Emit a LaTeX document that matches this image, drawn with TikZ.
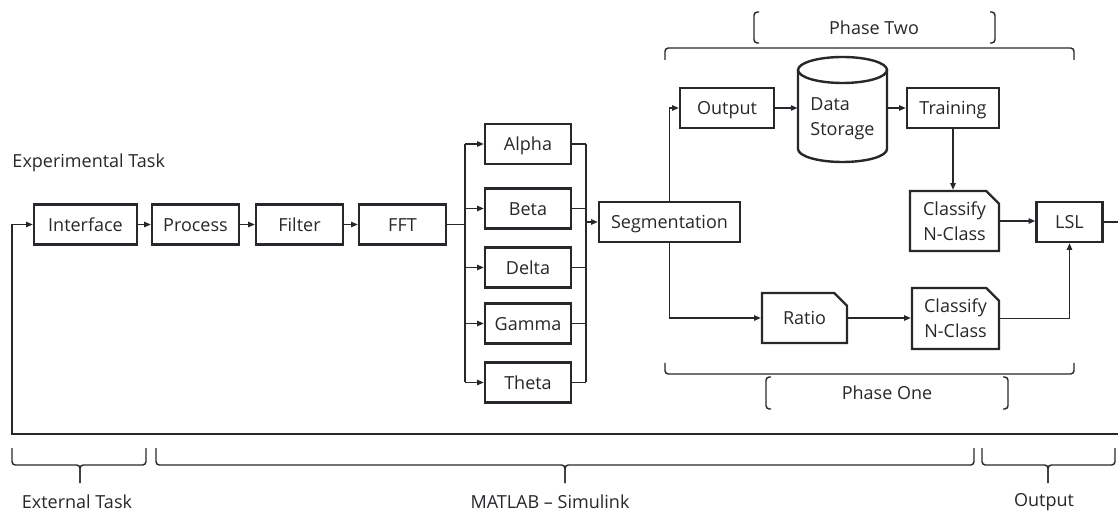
\documentclass[tikz,border=0pt]{standalone}
\usepackage{fontspec}
\setmainfont{Open Sans}
\usetikzlibrary{arrows.meta,shapes.misc}
\definecolor{inkgray}{RGB}{40,40,44}
\tikzset{every picture/.style={line width=0.75pt}}

\begin{document}
\begin{tikzpicture}[x=0.75pt,y=0.75pt,yscale=-1,xscale=1,
  boxbase/.style={draw=inkgray, line width=1.8pt, text=inkgray, minimum height=30pt, inner sep=2pt, font=\fontsize{13.5}{18.5}\selectfont},
  blk/.style={boxbase, text height=9.8pt, text depth=0pt},
  cut/.style={boxbase, chamfered rectangle, chamfered rectangle corners=north east, chamfered rectangle xsep=6pt, align=center},
  conn/.style={draw=inkgray, line width=1.1pt},
  arr/.style={conn, -{Triangle[length=5pt,width=4pt]}},
  brk/.style={draw=inkgray, line width=1.1pt, rounded corners=2.5pt},
  lbl/.style={text=inkgray, font=\fontsize{13.5}{18.5}\selectfont, inner sep=0pt}]
%set diagram size
\path[use as bounding box, fill=white] (0,0) rectangle (1118,513);

%Flowchart: Process [main row]
\node[blk, minimum width=77.25pt] (iface) at (85.5,224.5) {Interface};
\node[blk, minimum width=65.25pt] (proc) at (195.5,224.5) {Process};
\node[blk, minimum width=65.25pt] (filt) at (299.5,224.5) {Filter};
\node[blk, minimum width=65.25pt] (fft) at (402.5,224.5) {FFT};
%Flowchart: Process [bands]
\node[blk, minimum width=64.5pt] (alpha) at (528,144) {Alpha};
\node[blk, minimum width=64.5pt] (beta) at (528,208.5) {Beta};
\node[blk, minimum width=64.5pt] (delta) at (528,267.5) {Delta};
\node[blk, minimum width=64.5pt] (gamma) at (528,323.5) {Gamma};
\node[blk, minimum width=64.5pt] (theta) at (528,382.5) {Theta};
\node[blk, minimum width=105.75pt] (seg) at (669.5,222) {Segmentation};
%Phase two
\node[blk, minimum width=70.5pt] (outp) at (727,108) {Output};
\node[text=inkgray, font=\fontsize{13.5}{18.5}\selectfont, minimum width=66.75pt, minimum height=45pt, align=left] (store) at (842.5,119) {Data\\Storage};
\node[blk, minimum width=69pt] (train) at (953,108) {Training};
\node[cut, minimum width=66.75pt, minimum height=45pt] (cls1) at (954.5,221) {Classify\\N-Class};
\node[blk, minimum width=49.5pt] (lsl) at (1069.5,222) {LSL};
%Phase one
\node[cut, text height=9.8pt, text depth=0pt, minimum width=63.75pt, minimum height=37.5pt] (ratio) at (804.5,318) {Ratio};
\node[cut, minimum width=65.25pt, minimum height=45.75pt] (cls2) at (955.5,318.5) {Classify\\N-Class};

%Shape: Can [data storage]
\draw[draw=inkgray, line width=1.8pt] (798,70) -- (798,149) arc[start angle=180, end angle=0, x radius=44.5, y radius=13] -- (887,70);
\draw[draw=inkgray, line width=1.8pt] (842.5,70) ellipse [x radius=44.5, y radius=13];

%Straight Lines [main row]
\draw[arr] (iface.east) -- (proc.west);
\draw[arr] (proc.east) -- (filt.west);
\draw[arr] (filt.east) -- (fft.west);
\coordinate (busL) at (465,224.5);
\coordinate (busR) at (586,222);
\draw[conn] (fft.east) -- (busL);
\draw[conn] (busL |- alpha.west) -- (busL |- theta.west);
\draw[conn] (busR |- alpha.east) -- (busR |- theta.east);
\foreach \b in {alpha,beta,delta,gamma,theta}{
  \draw[arr] (busL |- \b.west) -- (\b.west);
  \draw[conn] (\b.east) -- (busR |- \b.east);
}
\draw[arr] (busR) -- (seg.west);
%Straight Lines [phases]
\draw[arr] (seg.north) |- (outp.west);
\draw[arr] (outp.east) -- (outp.east -| store.west);
\draw[arr] (train.west -| store.east) -- (train.west);
\draw[arr] (train.south) -- (train.south |- cls1.north);
\draw[arr] (cls1.east) -- (cls1.east -| lsl.west);
\draw[arr] (seg.south) |- (ratio.west);
\draw[arr] (ratio.east) -- (ratio.east -| cls2.west);
\draw[arr] (cls2.east) -| (lsl.south);
%Straight Lines [feedback]
\coordinate (fbL) at (12,434);
\coordinate (fbR) at (1124,434);
\draw[arr] (lsl.east) -| (fbR) -- (fbL) |- (iface.west);

%Brackets [phase two / phase one]
\draw[brk] (665,60) -- (665,48) -- (1074,48) -- (1074,60);
\draw[brk] (759,12) -- (754,12) -- (754,43) -- (759,43);
\draw[brk] (990,12) -- (995,12) -- (995,43) -- (990,43);
\node[lbl] (phase2) at (874,28) {Phase Two};
\draw[brk] (665,363) -- (665,374) -- (1074,374) -- (1074,363);
\draw[brk] (771,377) -- (766,377) -- (766,409) -- (771,409);
\draw[brk] (1003,377) -- (1008,377) -- (1008,409) -- (1003,409);
\node[lbl] (phase1) at (887,393) {Phase One};

%Braces [bottom]
\draw[brk] (12,448) -- (12,465) -- (80,465) -- (80,483);
\draw[brk] (80,483) -- (80,465) -- (146,465) -- (146,448);
\draw[brk] (156,448) -- (156,465) -- (565,465) -- (565,483);
\draw[brk] (565,483) -- (565,465) -- (974,465) -- (974,448);
\draw[brk] (982,448) -- (982,465) -- (1048,465) -- (1048,483);
\draw[brk] (1048,483) -- (1048,465) -- (1115,465) -- (1115,448);

%Text
\node[lbl, anchor=west] (exptask) at (12,163) {Experimental Task};
\node[lbl] (extlbl) at (77,502) {External Task};
\node[lbl] (simlbl) at (550,502) {MATLAB – Simulink};
\node[lbl] (outlbl) at (1044,502) {Output};
\end{tikzpicture}
\end{document}
